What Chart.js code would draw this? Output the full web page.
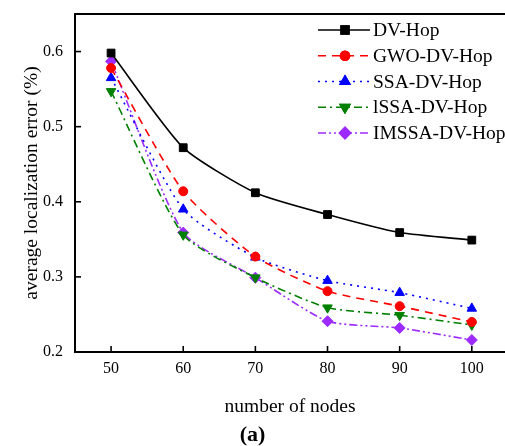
<!DOCTYPE html>
<html>
<head>
<meta charset="utf-8">
<script src="https://cdn.jsdelivr.net/npm/chart.js@4.4.0/dist/chart.umd.min.js"></script>
<style>
  html, body { margin: 0; padding: 0; background: #fff; overflow: hidden; }
  #wrap { width: 505px; height: 446px; }
</style>
</head>
<body>
<div id="wrap"><canvas id="myChart"></canvas></div>
<script>
const nodes = [50, 60, 70, 80, 90, 100];
const dvHop = [0.598, 0.472, 0.412, 0.383, 0.359, 0.349];
const gwoDvHop = [0.578, 0.414, 0.327, 0.281, 0.261, 0.240];
const ssaDvHop = [0.565, 0.390, 0.326, 0.295, 0.279, 0.258];
const issaDvHop = [0.547, 0.356, 0.299, 0.259, 0.249, 0.236];
const imssaDvHop = [0.587, 0.359, 0.299, 0.241, 0.232, 0.216];
const xTicks = [50, 60, 70, 80, 90, 100];
const yTicks = [0.2, 0.3, 0.4, 0.5, 0.6];

const serif = "'Liberation Serif', 'DejaVu Serif', serif";

function toPoints(vals){
    return nodes.map((n, i) => ({x: n, y: vals[i]}));
}

function makeSet(label, vals, color, dash, style, rot, rad){
    return {
        label: label,
        data: toPoints(vals),
        borderColor: color,
        backgroundColor: color,
        borderWidth: 1.6,
        borderDash: dash,
        pointStyle: style,
        rotation: rot,
        pointRadius: rad,
        pointBorderWidth: 1,
        tension: 0.2,
        fill: false
    };
}

const datasets = [
    makeSet('DV-Hop', dvHop, '#000000', [], 'rect', 0, 5.5),
    makeSet('GWO-DV-Hop', gwoDvHop, '#ff0000', [8, 6], 'circle', 0, 4.5),
    makeSet('SSA-DV-Hop', ssaDvHop, '#0000ff', [2, 5], 'triangle', 0, 5.5),
    makeSet('lSSA-DV-Hop', issaDvHop, '#008000', [8, 4, 2, 4], 'triangle', 180, 5.5),
    makeSet('IMSSA-DV-Hop', imssaDvHop, '#9d2bff', [8, 3, 2, 3, 2, 3], 'rectRot', 0, 5.5)
];

// inward ticks, top border and the line+marker legend
const extras = {
    id: 'extras',
    afterDraw(chart){
        const ctx = chart.ctx;
        const a = chart.chartArea;
        const xs = chart.scales.x, ys = chart.scales.y;
        ctx.save();
        ctx.strokeStyle = '#000';
        ctx.lineWidth = 2;
        ctx.beginPath();
        ctx.moveTo(a.left - 1, a.top);
        ctx.lineTo(a.right, a.top);
        ctx.stroke();
        ctx.lineWidth = 1.6;
        xs.ticks.forEach(t => {
            const px = xs.getPixelForValue(t.value);
            ctx.beginPath();
            ctx.moveTo(px, a.bottom);
            ctx.lineTo(px, a.bottom - 6);
            ctx.stroke();
        });
        ys.ticks.forEach(t => {
            const py = ys.getPixelForValue(t.value);
            ctx.beginPath();
            ctx.moveTo(a.left, py);
            ctx.lineTo(a.left + 6, py);
            ctx.stroke();
        });

        // legend
        ctx.font = "19.5px " + serif;
        ctx.textBaseline = 'middle';
        ctx.textAlign = 'left';
        chart.data.datasets.forEach((ds, i) => {
            const y = 30 + i * 25.75;
            ctx.strokeStyle = ds.borderColor;
            ctx.lineWidth = ds.borderWidth;
            ctx.setLineDash(ds.borderDash);
            ctx.beginPath();
            ctx.moveTo(318, y);
            ctx.lineTo(370, y);
            ctx.stroke();
            ctx.setLineDash([]);
            ctx.fillStyle = ds.backgroundColor;
            Chart.helpers.drawPoint(ctx, {pointStyle: ds.pointStyle, rotation: ds.rotation, radius: ds.pointRadius, borderWidth: 1}, 345, y);
            ctx.fill();
            ctx.stroke();
            ctx.fillStyle = '#000';
            ctx.fillText(ds.label, 373, y + 1);
        });
        ctx.restore();
    }
};

function noPad(s){
    s.paddingLeft = 0; s.paddingRight = 0; s.paddingTop = 0; s.paddingBottom = 0;
}

new Chart(document.getElementById('myChart'), {
    type: 'line',
    data: { datasets: datasets },
    options: {
        responsive: true,
        maintainAspectRatio: false,
        animation: false,
        layout: { autoPadding: false, padding: { top: 14, right: 0, left: 0, bottom: 0 } },
        plugins: {
            legend: { display: false },
            tooltip: { enabled: false },
            title: {
                display: true,
                position: 'bottom',
                text: '(a)',
                color: '#000',
                font: { family: serif, size: 22, weight: 'bold', lineHeight: 1.0 },
                padding: { top: 5, bottom: 0 }
            }
        },
        scales: {
            x: {
                type: 'linear',
                min: 45,
                max: 104.6,
                afterBuildTicks: s => { s.ticks = xTicks.map(v => ({value: v})); },
                afterFit: s => { s.height = 67; noPad(s); },
                grid: { display: false, drawTicks: false },
                border: { display: true, color: '#000', width: 2 },
                ticks: { color: '#000', padding: 7, font: { family: serif, size: 16 } },
                title: {
                    display: true,
                    text: 'number of nodes',
                    color: '#000',
                    font: { family: serif, size: 19.5, lineHeight: 1.2 },
                    padding: { top: 0, bottom: 0 }
                }
            },
            y: {
                min: 0.2,
                max: 0.65,
                afterBuildTicks: s => { s.ticks = yTicks.map(v => ({value: v})); },
                afterFit: s => { s.width = 75; noPad(s); },
                grid: { display: false, drawTicks: false },
                border: { display: true, color: '#000', width: 2 },
                ticks: {
                    color: '#000',
                    padding: 12,
                    font: { family: serif, size: 16 },
                    callback: v => v.toFixed(1)
                },
                title: {
                    display: true,
                    text: 'average localization error (%)',
                    color: '#000',
                    font: { family: serif, size: 19.5, lineHeight: 1.2 },
                    padding: { top: 20, bottom: 0 }
                }
            }
        }
    },
    plugins: [extras]
});
</script>
</body>
</html>
